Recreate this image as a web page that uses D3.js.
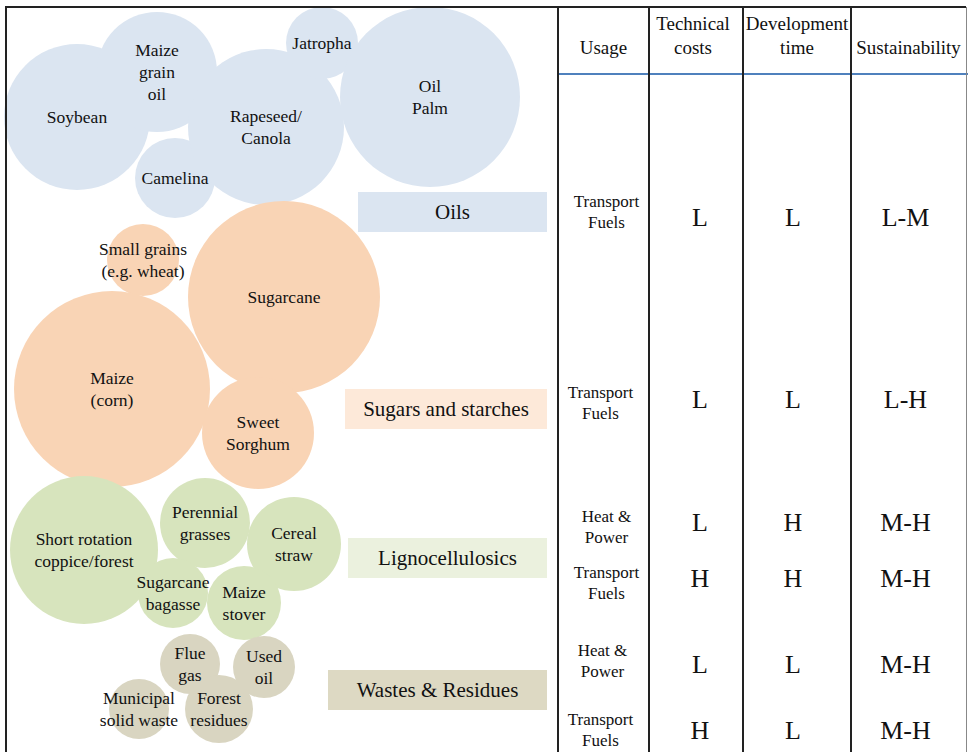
<!DOCTYPE html>
<html>
<head>
<meta charset="utf-8">
<script src="https://cdn.jsdelivr.net/npm/d3@7"></script>
<style>
  html, body { margin: 0; padding: 0; background: #fff; }
  svg { display: block; }
</style>
</head>
<body>
<div id="chart"></div>
<script>
// ---------------- DATA ----------------
const groups = ["Oils", "Sugars and starches", "Lignocellulosics", "Wastes & Residues"];

// feedstock bubbles: group index, label lines, layout position (panel units) and size
const bubbleNames = [
  ["Soybean"], ["Maize", "grain", "oil"], ["Camelina"], ["Rapeseed/", "Canola"], ["Jatropha"], ["Oil", "Palm"],
  ["Small grains", "(e.g. wheat)"], ["Sugarcane"], ["Maize", "(corn)"], ["Sweet", "Sorghum"],
  ["Short rotation", "coppice/forest"], ["Perennial", "grasses"], ["Cereal", "straw"], ["Sugarcane", "bagasse"], ["Maize", "stover"],
  ["Flue", "gas"], ["Used", "oil"], ["Municipal", "solid waste"], ["Forest", "residues"]
];
const bubbleGroup = [0,0,0,0,0,0, 1,1,1,1, 2,2,2,2,2, 3,3,3,3];
const bubbleX    = [71, 151, 169, 260, 316, 424, 137, 278, 106, 252, 78, 199, 288, 167, 238, 184, 258, 133, 213];
const bubbleY    = [110, 65, 171, 120, 36, 90, 253, 290, 382, 426, 543, 516, 537, 586, 596, 657, 660, 702, 702];
const bubbleSize = [73, 60, 40, 78, 36, 90, 36, 96, 98, 56, 74, 45, 47, 35, 37, 30, 31, 30, 34];

// table
const headers = [["Usage"], ["Technical", "costs"], ["Development", "time"], ["Sustainability"]];
const rowGroup = [0, 1, 2, 2, 3, 3];
const rowUsage = [["Transport", "Fuels"], ["Transport", "Fuels"], ["Heat &", "Power"], ["Transport", "Fuels"], ["Heat &", "Power"], ["Transport", "Fuels"]];
const rowTech  = ["L", "L", "L", "H", "L", "H"];
const rowDev   = ["L", "L", "H", "H", "L", "L"];
const rowSust  = ["L-M", "L-H", "M-H", "M-H", "M-H", "M-H"];
const rowPos    = [205, 396, 520, 576, 654, 723];   // usage text centre, panel units
const ratingPos = [210, 392, 515, 571, 657, 723];   // rating letters centre, panel units
const groupLabelPos = [205, 402, 551, 683];          // category label centre, panel units

// ---------------- STYLE ----------------
const W = 968, H = 752;
const FONT = "'Liberation Serif', 'Times New Roman', Times, 'DejaVu Serif', serif";
const bubbleFill = ["#dbe5f1", "#f9d4b5", "#d7e4bd", "#d9d5c1"];
const labelFill  = ["#dbe5f1", "#fde9d9", "#ebf1de", "#ddd9c3"];
const labelBoxW  = [189, 202, 199, 219];
const usageShift = [3, -3, 3, 3, -1, -3];
const ratingShift = [4, -4, -3];

const svg = d3.select("#chart").append("svg").attr("width", W).attr("height", H)
  .attr("font-family", FONT);
svg.append("rect").attr("width", W).attr("height", H).attr("fill", "#fff");

// panel scales
const panelL = 6, panelT = 7;
const x = d3.scaleLinear().domain([0, 552]).range([panelL, panelL + 552]);
const y = d3.scaleLinear().domain([0, 745]).range([panelT, panelT + 745]);
const r = d3.scaleLinear().domain([0, 100]).range([0, 100]);

const bubbles = bubbleNames.map((n, i) => ({ lines: n, g: bubbleGroup[i], x: bubbleX[i], y: bubbleY[i], s: bubbleSize[i] }));

const gB = svg.append("g");
gB.selectAll("circle").data(bubbles).join("circle")
  .attr("cx", d => x(d.x)).attr("cy", d => y(d.y)).attr("r", d => r(d.s))
  .attr("fill", d => bubbleFill[d.g]);

function multiline(sel, lines, cx, cy, fs, lh) {
  const n = lines.length;
  lines.forEach((t, k) => {
    sel.append("text")
      .attr("x", cx)
      .attr("y", cy + (k - (n - 1) / 2) * lh + fs * 0.34)
      .attr("text-anchor", "middle")
      .attr("font-family", FONT)
      .attr("font-size", fs)
      .attr("fill", "#111")
      .text(t);
  });
}

const gL = svg.append("g");
bubbles.forEach(d => multiline(gL, d.lines, x(d.x), y(d.y), 17.5, 22));

// category label boxes (right-aligned at panel edge)
const boxRight = 547, boxH = 40;
groups.forEach((gname, i) => {
  const cy = y(groupLabelPos[i]);
  svg.append("rect")
    .attr("x", boxRight - labelBoxW[i]).attr("y", cy - boxH / 2)
    .attr("width", labelBoxW[i]).attr("height", boxH)
    .attr("fill", labelFill[i]);
  svg.append("text")
    .attr("x", boxRight - labelBoxW[i] / 2).attr("y", cy + 21 * 0.34)
    .attr("text-anchor", "middle").attr("font-family", FONT).attr("font-size", 21)
    .attr("fill", "#111").text(gname);
});

// ---------------- TABLE ----------------
const colEdges = [558, 649, 743, 851, 966];
const colCenter = i => (colEdges[i] + colEdges[i + 1]) / 2;

headers.forEach((h, i) => {
  if (h.length === 1) multiline(svg, h, colCenter(i), 48, 19, 24);
  else multiline(svg, h, colCenter(i) - (i === 1 ? 3 : 0), 36, 19, 24);
});

// blue header rule
svg.append("line").attr("x1", 559).attr("x2", W).attr("y1", 74).attr("y2", 74)
  .attr("stroke", "#4f81bd").attr("stroke-width", 2);

rowUsage.forEach((u, i) => {
  multiline(svg, u, colCenter(0) + usageShift[i], y(rowPos[i]), 17, 21);
  const cy = y(ratingPos[i]);
  [rowTech[i], rowDev[i], rowSust[i]].forEach((v, j) => {
    svg.append("text").attr("x", colCenter(j + 1) + ratingShift[j]).attr("y", cy + 26 * 0.36)
      .attr("text-anchor", "middle").attr("font-family", FONT).attr("font-size", 26)
      .attr("fill", "#111").text(v);
  });
});

// ---------------- FRAME ----------------
const stroke = "#222";
svg.append("line").attr("x1", panelL - 1).attr("x2", 966).attr("y1", panelT).attr("y2", panelT)
  .attr("stroke", stroke).attr("stroke-width", 2);
svg.append("line").attr("x1", panelL).attr("x2", panelL).attr("y1", panelT).attr("y2", H)
  .attr("stroke", stroke).attr("stroke-width", 2);
colEdges.slice(0, 4).forEach(cx => {
  svg.append("line").attr("x1", cx).attr("x2", cx).attr("y1", panelT).attr("y2", H)
    .attr("stroke", stroke).attr("stroke-width", 2);
});
svg.append("line").attr("x1", 966.5).attr("x2", 966.5).attr("y1", panelT).attr("y2", H)
  .attr("stroke", "#888").attr("stroke-width", 1);
</script>
</body>
</html>
